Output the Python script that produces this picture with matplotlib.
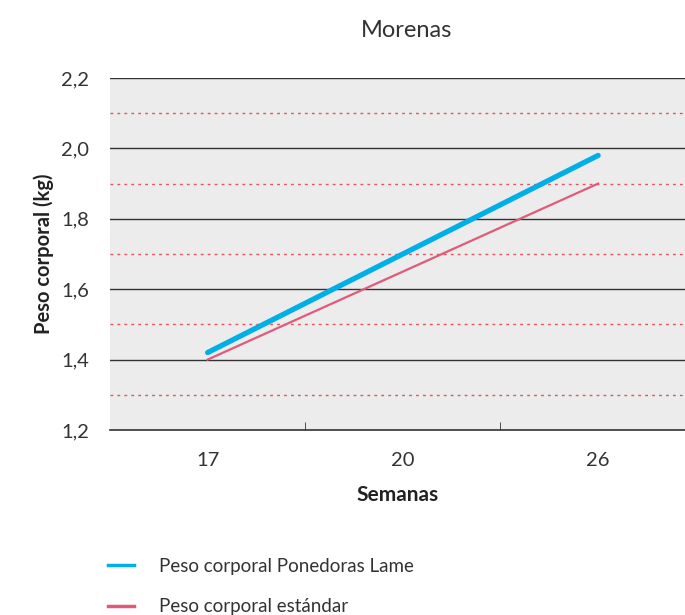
import matplotlib
matplotlib.use("Agg")
import matplotlib.pyplot as plt
from matplotlib.lines import Line2D

weeks = ["17", "20", "26"]
lame = [1.42, 1.70, 1.98]
standard = [1.40, 1.65, 1.90]
major_ticks = [1.2, 1.4, 1.6, 1.8, 2.0, 2.2]
minor_lines = [1.3, 1.5, 1.7, 1.9, 2.1]

plt.rcParams['font.family'] = ['Lato', 'DejaVu Sans']

fig = plt.figure(figsize=(6.85, 6.15), dpi=100)
ax = fig.add_axes([0.1606, 0.3008, 0.8394, 0.5724])
ax.set_facecolor('#ececec')

x = list(range(len(weeks)))
for y in major_ticks[1:]:
    ax.axhline(y, color='#333333', lw=1.0, zorder=1)
for y in minor_lines:
    ax.axhline(y, color='#e8505a', lw=1.0, ls=(0, (2, 3)), zorder=1)

ax.plot(x, standard, color='#e05a7a', lw=1.6, zorder=3)
ax.plot(x, lame, color='#00aee8', lw=3.8, solid_capstyle='round', zorder=4)

ax.set_xlim(-0.5, 2.445)
ax.set_ylim(1.2, 2.2)
ax.set_yticks(major_ticks)
ax.set_yticklabels([f"{v:.1f}".replace('.', ',') for v in major_ticks])
ax.set_xticks(x)
ax.set_xticklabels(weeks)
ax.set_xticks([0.5, 1.5], minor=True)
ax.tick_params(axis='x', which='major', length=0, pad=16, labelsize=14.5, labelcolor='#333333')
ax.tick_params(axis='x', which='minor', length=6, direction='in', color='#333333')
ax.tick_params(axis='y', length=0, pad=15, labelsize=14.5, labelcolor='#333333')
for s in ['top', 'right', 'left']:
    ax.spines[s].set_visible(False)
ax.spines['bottom'].set_color('#333333')
ax.spines['bottom'].set_linewidth(1.2)

ax.set_xlabel('Semanas', fontsize=15, fontweight='bold', color='#222222', labelpad=11)
ax.set_ylabel('Peso corporal (kg)', fontsize=14.5, fontweight='bold', color='#222222', labelpad=5)
fig.text(0.593, 0.95, 'Morenas', fontsize=17, color='#333333', ha='center', va='center')

handles = [Line2D([], [], color='#00aee8', lw=2.5),
           Line2D([], [], color='#e05a7a', lw=2.5)]
labels = ['Peso corporal Ponedoras Lame', 'Peso corporal estándar']
fig.legend(handles, labels, loc='upper left', bbox_to_anchor=(0.158, 0.093), frameon=False,
           fontsize=13.5, handlelength=1.4, handletextpad=1.3, labelspacing=1.25,
           labelcolor='#333333', borderaxespad=0, borderpad=0)

fig.savefig('out.png', dpi=100)
